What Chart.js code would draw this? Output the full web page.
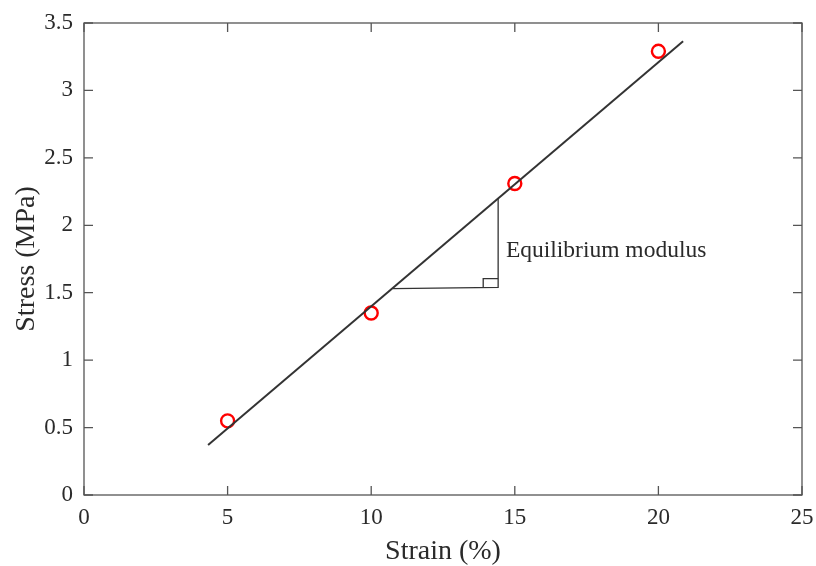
<!DOCTYPE html>
<html>
<head>
<meta charset="utf-8">
<script src="https://cdn.jsdelivr.net/npm/chart.js@4/dist/chart.umd.min.js"></script>
<style>
html,body{margin:0;padding:0;background:#fff;}
canvas{display:block;}
</style>
</head>
<body>
<canvas id="c" width="816" height="566"></canvas>
<script>
// ---- data ----
const strain = [5, 10, 15, 20];
const stress = [0.55, 1.35, 2.31, 3.29];
const fitX = [4.32, 20.86];
const fitY = [0.37, 3.365];
const triX = [10.76, 14.42, 14.42];
const triY = [1.53, 1.54, 2.198];
const boxX = [13.9, 13.9, 14.42];
const boxY = [1.538, 1.605, 1.605];
const xTicks = [0, 5, 10, 15, 20, 25];
const yTicks = [0, 0.5, 1, 1.5, 2, 2.5, 3, 3.5];
const annotationText = "Equilibrium modulus";
const annotationX = 14.69;
const annotationY = 1.81;

const FONT = "'Liberation Serif','Times New Roman',serif";
const TXT = '#2a2a2a';

const toPts = (xs, ys) => xs.map((x, i) => ({x: x, y: ys[i]}));

const framePlugin = {
  id: 'frame',
  afterDatasetsDraw(chart) {
    const {ctx, chartArea: a, scales} = chart;
    const xs = scales.x, ys = scales.y;
    ctx.save();
    ctx.strokeStyle = '#555';
    ctx.lineWidth = 1.3;
    ctx.strokeRect(a.left, a.top, a.right - a.left, a.bottom - a.top);
    const L = 9;
    ctx.beginPath();
    xTicks.forEach(v => {
      const p = xs.getPixelForValue(v);
      ctx.moveTo(p, a.bottom); ctx.lineTo(p, a.bottom - L);
      ctx.moveTo(p, a.top); ctx.lineTo(p, a.top + L);
    });
    yTicks.forEach(v => {
      const p = ys.getPixelForValue(v);
      ctx.moveTo(a.left, p); ctx.lineTo(a.left + L, p);
      ctx.moveTo(a.right, p); ctx.lineTo(a.right - L, p);
    });
    ctx.stroke();
    // annotation text
    ctx.fillStyle = TXT;
    ctx.font = "23.5px " + FONT;
    ctx.textAlign = 'left';
    ctx.textBaseline = 'middle';
    ctx.fillText(annotationText, xs.getPixelForValue(annotationX), ys.getPixelForValue(annotationY));
    ctx.restore();
  }
};

new Chart(document.getElementById('c'), {
  type: 'scatter',
  data: {
    datasets: [
      {
        label: 'fit',
        data: toPts(fitX, fitY),
        showLine: true,
        borderColor: '#333',
        borderWidth: 2,
        pointRadius: 0,
        fill: false
      },
      {
        label: 'triangle',
        data: toPts(triX, triY),
        showLine: true,
        borderColor: '#333',
        borderWidth: 1.3,
        pointRadius: 0,
        fill: false
      },
      {
        label: 'rightangle',
        data: toPts(boxX, boxY),
        showLine: true,
        borderColor: '#333',
        borderWidth: 1.3,
        pointRadius: 0,
        fill: false
      },
      {
        label: 'data',
        data: toPts(strain, stress),
        showLine: false,
        borderColor: '#ff0000',
        backgroundColor: 'rgba(0,0,0,0)',
        pointRadius: 6.5,
        pointBorderWidth: 2.4,
        pointHoverRadius: 6.5
      }
    ]
  },
  options: {
    responsive: false,
    animation: false,
    events: [],
    layout: {padding: {top: 23, right: 14, left: 0, bottom: 0}},
    plugins: {legend: {display: false}, tooltip: {enabled: false}},
    scales: {
      x: {
        type: 'linear',
        min: 0, max: 25,
        afterBuildTicks(s) { s.ticks = xTicks.map(v => ({value: v})); },
        afterFit(s) { s.height = 71; s.paddingLeft = 0; s.paddingRight = 0; },
        grid: {display: false, drawTicks: false},
        border: {display: false},
        ticks: {
          padding: 9,
          color: TXT,
          font: {family: FONT, size: 23},
          maxRotation: 0,
          callback: v => String(v)
        },
        title: {
          display: true,
          text: 'Strain (%)',
          color: TXT,
          font: {family: FONT, size: 28, lineHeight: 1},
          padding: {top: 0, bottom: 0}
        }
      },
      y: {
        type: 'linear',
        min: 0, max: 3.5,
        afterBuildTicks(s) { s.ticks = yTicks.map(v => ({value: v})); },
        afterFit(s) { s.width = 84; s.paddingTop = 0; s.paddingBottom = 0; },
        grid: {display: false, drawTicks: false},
        border: {display: false},
        ticks: {
          padding: 11,
          color: TXT,
          font: {family: FONT, size: 23},
          callback: v => String(v)
        },
        title: {
          display: true,
          text: 'Stress (MPa)',
          color: TXT,
          font: {family: FONT, size: 28, lineHeight: 1},
          padding: {top: 13, bottom: 0}
        }
      }
    }
  },
  plugins: [framePlugin]
});
</script>
</body>
</html>
